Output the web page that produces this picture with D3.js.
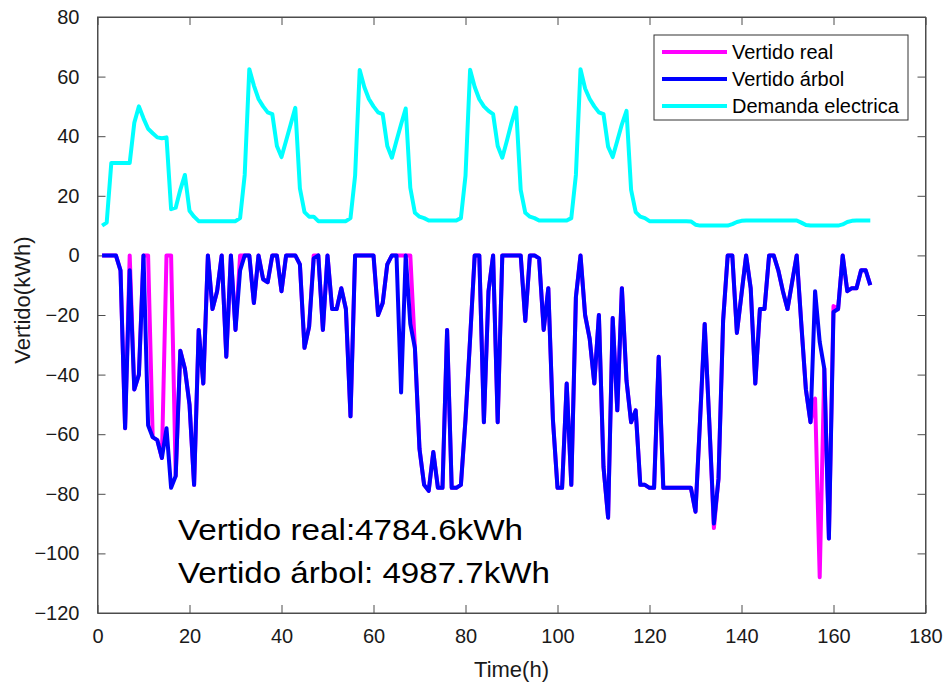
<!DOCTYPE html>
<meta charset="utf-8">
<style>
    html, body {
        margin: 0;
        padding: 0;
        background: #fff;
    }
    svg text {
        font-family: "Liberation Sans", Arial, sans-serif;
        fill: #1a1a1a;
    }
    .axis path, .axis line {
        stroke: #4d4d4d;
    }
</style>
<body>
<div id="chart"></div>
<script src="https://cdnjs.cloudflare.com/ajax/libs/d3/7.8.5/d3.min.js"></script>
<script>
    // hourly values, t = 1..168 (one row per day)
    var vertidoReal = [
        0,0,0,0,-5,-58,0,-45,-40,0,0,-61,-62,-68,0,0,-74,-32,-38,-50,-77,-25,-43,0,
        -18,-12,0,-34,0,-25,0,0,0,-16,0,-8,-9,0,0,-12,0,0,0,-3,-31,-24,0,0,
        -25,0,-18,-18,-11,-18,-54,0,0,0,0,0,-20,-16,-3,0,0,0,0,0,-31,-65,-77,-79,
        -66,-78,-78,-25,-78,-78,-77,-55,-28,0,0,-56,-12,0,-56,0,0,0,0,0,-22,0,0,-1,
        -25,-11,-55,-78,-78,-43,-77,-14,0,-20,-28,-43,-20,-71,-88,-21,-52,-11,-42,-56,-52,-77,-77,-78,
        -78,-34,-78,-78,-78,-78,-78,-78,-78,-86,-55,-23,-56,-91.5,-75,-22,0,0,-26,-13,0,-11,-43,-18,
        -18,0,0,-5,-12,-18,-9,0,-23,-45,-56,-48,-108,-38,-95,-17,-18,0,-12,-11,-11,-5,-5,-10
    ];

    var vertidoArbol = [
        0,0,0,0,-5,-58,-5,-45,-40,0,-57,-61,-62,-68,-58,-78,-74,-32,-38,-50,-77,-25,-43,0,
        -18,-12,0,-34,0,-25,-5,0,0,-16,0,-8,-9,0,0,-12,0,0,0,-3,-31,-24,-1,0,
        -25,0,-18,-18,-11,-18,-54,0,0,0,0,0,-20,-16,-3,0,0,-46,0,-23,-31,-65,-77,-79,
        -66,-78,-78,-25,-78,-78,-77,-55,-28,0,0,-56,-12,0,-56,0,0,0,0,0,-22,0,0,-1,
        -25,-11,-55,-78,-78,-43,-77,-14,0,-20,-28,-43,-20,-71,-88,-21,-52,-11,-42,-56,-52,-77,-77,-78,
        -78,-34,-78,-78,-78,-78,-78,-78,-78,-86,-55,-23,-56,-90,-75,-22,0,0,-26,-13,0,-11,-43,-18,
        -18,0,0,-5,-12,-18,-9,0,-23,-45,-56,-12,-29,-38,-95,-19,-18,0,-12,-11,-11,-5,-5,-10
    ];

    var demanda = [
        10,11,31,31,31,31,31,44.5,50,46,42.5,41,39.6,39.3,39.6,15.5,16,22,27,15,13,11.5,11.5,11.5,
        11.5,11.5,11.5,11.5,11.5,11.5,12.5,27,62.5,57,52.5,50,48,47.4,36.7,33,38.5,44,49.5,22.5,14.5,13,13,11.5,
        11.5,11.5,11.5,11.5,11.5,11.5,12.5,26.7,62.2,56.5,52.5,50,48,47.4,36.7,32.8,38.5,44,49.3,22.7,14.3,13,12.5,11.7,
        11.7,11.7,11.7,11.7,11.7,11.7,12.5,26.7,62.3,56.5,52.4,50,48.5,47.4,36.7,32.8,38.5,44.5,49.6,22,14.3,13,12.5,11.7,
        11.7,11.7,11.7,11.7,11.7,11.7,12.5,27,62.5,56,52.5,50,48,47.4,36.5,33,38.5,44,48.5,22,14.5,13,12.5,11.5,
        11.5,11.5,11.5,11.5,11.5,11.5,11.5,11.5,11.4,10.3,10,10,10,10,10,10,10,10.5,11.2,11.6,11.7,11.7,11.7,11.7,
        11.7,11.7,11.7,11.7,11.7,11.7,11.7,11.7,11,10.2,10,10,10,10,10,10,10,10.4,11.2,11.6,11.7,11.7,11.7,11.7
    ];

    var xTicks = [0, 20, 40, 60, 80, 100, 120, 140, 160, 180];
    var yTicks = [-120, -100, -80, -60, -40, -20, 0, 20, 40, 60, 80];

    var series = [
        {name: "Vertido real", color: "#ff00ff", values: vertidoReal},
        {name: "Vertido árbol", color: "#0000ff", values: vertidoArbol},
        {name: "Demanda electrica", color: "#00ffff", values: demanda}
    ];

    var annotations = [
        {text: "Vertido real:4784.6kWh", len: 345},
        {text: "Vertido árbol: 4987.7kWh", len: 372}
    ];

    var W = 946, H = 689;
    var margin = {top: 17, right: 20.5, bottom: 76, left: 97.5},
        width = W - margin.left - margin.right,
        height = H - margin.top - margin.bottom;

    var x = d3.scaleLinear().domain([0, 180]).range([0, width]),
        y = d3.scaleLinear().domain([-120, 80]).range([height, 0]);

    var svg = d3.select("#chart").append("svg")
        .attr("width", W)
        .attr("height", H);

    var g = svg.append("g")
        .attr("transform", "translate(" + margin.left + "," + margin.top + ")");

    // axes, ticks pointing inward on all four sides
    var tickLen = 8;
    g.append("g")
        .attr("class", "axis axis--x")
        .attr("transform", "translate(0," + height + ")")
        .call(d3.axisBottom(x).tickValues(xTicks).tickSizeInner(-tickLen).tickSizeOuter(0).tickPadding(16))
        .call(function(s) { s.selectAll("text").style("font-size", "20px"); });

    g.append("g")
        .attr("class", "axis")
        .call(d3.axisTop(x).tickValues(xTicks).tickSizeInner(-tickLen).tickSizeOuter(0).tickFormat(""));

    g.append("g")
        .attr("class", "axis axis--y")
        .call(d3.axisLeft(y).tickValues(yTicks).tickSizeInner(-tickLen).tickSizeOuter(0).tickPadding(18))
        .call(function(s) { s.selectAll("text").style("font-size", "20px"); });

    g.append("g")
        .attr("class", "axis")
        .attr("transform", "translate(" + width + ",0)")
        .call(d3.axisRight(y).tickValues(yTicks).tickSizeInner(-tickLen).tickSizeOuter(0).tickFormat(""));

    g.selectAll(".axis text").style("fill", "#1a1a1a");

    // box
    g.append("rect")
        .attr("width", width)
        .attr("height", height)
        .attr("fill", "none")
        .attr("stroke", "#4d4d4d");

    // axis labels
    svg.append("text")
        .attr("x", margin.left + width / 2)
        .attr("y", 677)
        .style("text-anchor", "middle")
        .style("font-size", "22px")
        .text("Time(h)");

    svg.append("text")
        .attr("transform", "translate(30," + (margin.top + y(-15)) + ") rotate(-90)")
        .style("text-anchor", "middle")
        .style("font-size", "22px")
        .text("Vertido(kWh)");

    // lines
    var line = d3.line()
        .x(function(d, i) { return x(i + 1); })
        .y(function(d) { return y(d); });

    g.selectAll(".serie")
        .data(series)
        .enter().append("path")
        .attr("class", "serie")
        .attr("d", function(d) { return line(d.values); })
        .attr("fill", "none")
        .attr("stroke", function(d) { return d.color; })
        .attr("stroke-width", 4)
        .attr("stroke-linejoin", "round");

    // annotation
    svg.selectAll(".note")
        .data(annotations)
        .enter().append("text")
        .attr("class", "note")
        .attr("x", 178)
        .attr("y", function(d, i) { return 540 + i * 43; })
        .attr("textLength", function(d) { return d.len; })
        .attr("lengthAdjust", "spacingAndGlyphs")
        .style("font-size", "29px")
        .style("fill", "#000")
        .text(function(d) { return d.text; });

    // legend
    var legend = svg.append("g")
        .attr("transform", "translate(654,35)");

    legend.append("rect")
        .attr("width", 254)
        .attr("height", 85)
        .attr("fill", "#fff")
        .attr("stroke", "#333");

    var item = legend.selectAll(".item")
        .data(series)
        .enter().append("g")
        .attr("class", "item")
        .attr("transform", function(d, i) { return "translate(0," + (17 + i * 27) + ")"; });

    item.append("line")
        .attr("x1", 8)
        .attr("x2", 73)
        .attr("stroke", function(d) { return d.color; })
        .attr("stroke-width", 4);

    item.append("text")
        .attr("x", 78)
        .attr("dy", "0.35em")
        .style("font-size", "20px")
        .style("fill", "#000")
        .text(function(d) { return d.name; });
</script>
</body>
